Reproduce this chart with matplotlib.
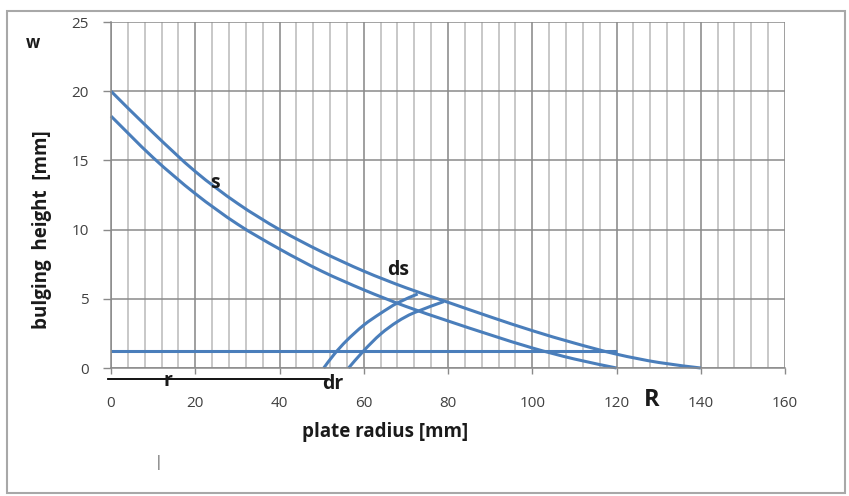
import matplotlib
matplotlib.use("Agg")
import matplotlib.pyplot as plt
import numpy as np
from matplotlib.patches import Rectangle, PathPatch
from matplotlib.path import Path
from matplotlib.ticker import MultipleLocator

# ---- data ----
s_x = [0, 10, 20, 30, 40, 50, 60, 70, 80, 90, 100, 110, 120, 130, 140]
s_w = [20, 17.0, 14.2, 11.9, 10.0, 8.4, 7.0, 5.8, 4.75, 3.7, 2.7, 1.8, 1.0, 0.4, 0]

d_x = [0, 10, 20, 30, 40, 50, 60, 70, 80, 90, 100, 110, 120]
d_w = [18.2, 15.2, 12.6, 10.4, 8.6, 7.0, 5.65, 4.45, 3.4, 2.4, 1.45, 0.65, 0]

arc1_x = [50.5, 53, 56, 60, 64, 68, 72.8]
arc1_w = [0, 1.0, 2.0, 3.1, 3.95, 4.7, 5.35]

arc2_x = [56.4, 60, 64, 68, 72, 79]
arc2_w = [0, 1.25, 2.45, 3.35, 4.0, 4.8]

base_x = [0, 120]
base_w = [1.2, 1.2]

r_line_x = [-0.7, 51.3]
r_line_w = [-0.8, -0.8]

x_ticks = [0, 20, 40, 60, 80, 100, 120, 140, 160]
y_ticks = [0, 5, 10, 15, 20, 25]

FONT = ["Open Sans", "DejaVu Sans"]
plt.rcParams["font.family"] = FONT

W, H = 849, 496
fig = plt.figure(figsize=(W / 100, H / 100), dpi=100)
fig.patch.set_facecolor("white")
ax = fig.add_axes([111 / W, 1 - 368 / H, (785 - 111) / W, (368 - 22) / H])

ax.set_xticks(x_ticks)
ax.set_yticks(y_ticks)
ax.xaxis.set_minor_locator(MultipleLocator(4))

# grid
ax.grid(which="minor", axis="x", color="#c4c4c4", lw=1.3)
ax.grid(which="major", axis="x", color="#858585", lw=1.1)
ax.grid(which="major", axis="y", color="#8a8a8a", lw=1.1)
ax.set_axisbelow(True)

for side in ["top", "right"]:
    ax.spines[side].set_visible(False)
for side in ["left", "bottom"]:
    ax.spines[side].set_color("#8a8a8a")
    ax.spines[side].set_linewidth(1.1)

ax.tick_params(axis="both", which="major", colors="#8a8a8a", labelcolor="#404040",
               labelsize=11, width=1.0)
ax.tick_params(axis="x", which="major", length=4, pad=16)
ax.tick_params(axis="y", which="major", length=6, pad=10)
ax.tick_params(axis="x", which="minor", length=0)

blue = "#4a7ebb"
lw = 2.2


def smooth_path(xs, ys):
    """Smoothed (Catmull-Rom) path through the given points, like Excel's smoothed line."""
    p = np.column_stack([xs, ys]).astype(float)
    n = len(p)
    verts = [p[0]]
    codes = [Path.MOVETO]
    for i in range(n - 1):
        p0 = p[i - 1] if i > 0 else p[i]
        p1 = p[i]
        p2 = p[i + 1]
        p3 = p[i + 2] if i + 2 < n else p[i + 1]
        c1 = p1 + (p2 - p0) / 6.0
        c2 = p2 - (p3 - p1) / 6.0
        verts += [c1, c2, p2]
        codes += [Path.CURVE4] * 3
    return Path(verts, codes)


for xs, ys in [(s_x, s_w), (d_x, d_w), (arc1_x, arc1_w), (arc2_x, arc2_w)]:
    patch = PathPatch(smooth_path(xs, ys), facecolor="none", edgecolor=blue, lw=lw,
                      clip_on=False, capstyle="butt")
    ax.add_patch(patch)

ax.plot(base_x, base_w, color=blue, lw=lw, clip_on=False, solid_capstyle="butt")
ax.plot(r_line_x, r_line_w, color="black", lw=1.3, clip_on=False)
ax.set_xlim(0, 160)
ax.set_ylim(0, 25)

bold = dict(fontweight="bold", color="#1a1a1a", ha="center", va="center")
ax.text(24.7, 13.4, "s", fontsize=14, **bold)
ax.text(68.1, 7.08, "ds", fontsize=14, **bold)
ax.text(52.7, -1.16, "dr", fontsize=14, clip_on=False, **bold)
ax.text(13.5, -0.94, "r", fontsize=14, clip_on=False, **bold)
ax.text(128.4, -2.3, "R", fontsize=17, clip_on=False, **bold)

fig.text(33 / W, 1 - 43 / H, "w", fontsize=12, **bold)
fig.text(385 / W, 1 - 432 / H, "plate radius [mm]", fontsize=13.5, **bold)
fig.text(42 / W, 1 - 230 / H, "bulging  height  [mm]", fontsize=13.5, rotation=90, **bold)
fig.text(158 / W, 1 - 463 / H, "|", fontsize=10, color="#555555", ha="center", va="center")

# outer frame
fig.patches.append(Rectangle((7 / W, 1 - 493 / H), (845 - 7) / W, (493 - 11) / H,
                             transform=fig.transFigure, fill=False,
                             edgecolor="#a8a8a8", lw=1.5))

fig.savefig("out.png", dpi=100)
